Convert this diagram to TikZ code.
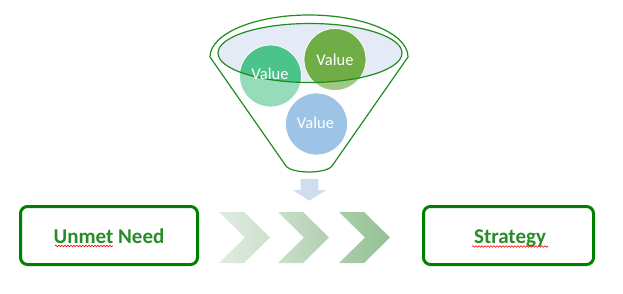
\documentclass[tikz,border=0pt]{standalone}
\usepackage{fontspec}
\setmainfont{Carlito}
\usetikzlibrary{decorations.pathmorphing}
\definecolor{boxgreen}{RGB}{0,128,0}
\definecolor{txtgreen}{RGB}{40,140,40}
\definecolor{funnelgreen}{RGB}{30,140,30}
\definecolor{ellfill}{RGB}{228,235,246}
\definecolor{cgreenA}{RGB}{76,195,138}
\definecolor{cgreenAl}{RGB}{150,220,186}
\definecolor{cgreenB}{RGB}{112,173,71}
\definecolor{cgreenBl}{RGB}{160,202,132}
\definecolor{cblue}{RGB}{157,195,230}
\definecolor{arrowblue}{RGB}{208,220,239}
\definecolor{chAl}{RGB}{226,236,226}
\definecolor{chAr}{RGB}{205,224,205}
\definecolor{chBl}{RGB}{200,222,200}
\definecolor{chBr}{RGB}{178,208,178}
\definecolor{chCl}{RGB}{170,205,170}
\definecolor{chCr}{RGB}{148,194,148}
\tikzset{
  funnelline/.style={draw=funnelgreen, line width=1.2pt},
  valcircle/.style={draw=white, line width=0.8pt},
  valtext/.style={text=white, font=\fontsize{16.5}{19}\selectfont, inner sep=0pt},
  outbox/.style={draw=boxgreen, line width=3pt, rounded corners=7pt, minimum height=58pt, inner sep=0pt, fill=white},
  boxtext/.style={text=txtgreen, font=\fontsize{21}{25}\selectfont\bfseries, inner sep=0pt, anchor=base},
  squig/.style={draw=red, line width=0.6pt, decorate, decoration={snake, amplitude=0.8pt, segment length=3pt}}
}
\begin{document}
\begin{tikzpicture}[x=1pt,y=-1pt]
\useasboundingbox (0,0) rectangle (623,294);
% funnel outline
\draw[funnelline] (210,57) arc[start angle=180,end angle=360,x radius=99,y radius=42]
  -- (332,166) .. controls (326,174) and (292,174) .. (286,166) -- cycle;
% inner ellipse fill
\fill[ellfill] (310,53) ellipse[x radius=92,y radius=29.5];
% circles
\fill[cgreenAl] (270.5,76) circle[radius=31];
\fill[cgreenBl] (335,59.5) circle[radius=31];
\begin{scope}
  \clip (310,53) ellipse[x radius=92,y radius=29.5];
  \fill[cgreenA] (270.5,76) circle[radius=31];
  \fill[cgreenB] (335,59.5) circle[radius=31];
\end{scope}
\draw[valcircle] (270.5,76) circle[radius=31];
\draw[valcircle] (335,59.5) circle[radius=31];
\fill[cblue] (316.5,124) circle[radius=31];
\draw[valcircle] (316.5,124) circle[radius=31];
% inner ellipse outline
\draw[funnelline] (310,53) ellipse[x radius=92,y radius=29.5];
% value labels
\node[valtext] (v1) at (270,74) {Value};
\node[valtext] (v2) at (335,60) {Value};
\node[valtext] (v3) at (315.5,123) {Value};
% down arrow
\fill[arrowblue] (300.7,179) -- (318.3,179) -- (318.3,190) -- (326,190) -- (309.3,200.7)
  -- (292.7,190) -- (300.7,190) -- cycle;
% chevrons
\shade[left color=chAl, right color=chAr] (219,212) -- (244,212) -- (270,237.5) -- (244,263) -- (219,263) -- (245,237.5) -- cycle;
\shade[left color=chBl, right color=chBr] (278,212) -- (303,212) -- (329,237.5) -- (303,263) -- (278,263) -- (304,237.5) -- cycle;
\shade[left color=chCl, right color=chCr] (339,212) -- (364,212) -- (390,237.5) -- (364,263) -- (339,263) -- (365,237.5) -- cycle;
% boxes
\node[outbox, minimum width=177pt] (need) at (109,235.5) {};
\node[outbox, minimum width=170pt] (strat) at (508.5,235.5) {};
\node[boxtext] (needtxt) at (109,243.5) {Unmet Need};
\node[boxtext] (strattxt) at (510,243.5) {Strategy};
% spell-check squiggles
\draw[squig] (55,246) -- (113,246);
\draw[squig] (472,246.5) -- (548,246.5);
\end{tikzpicture}
\end{document}
